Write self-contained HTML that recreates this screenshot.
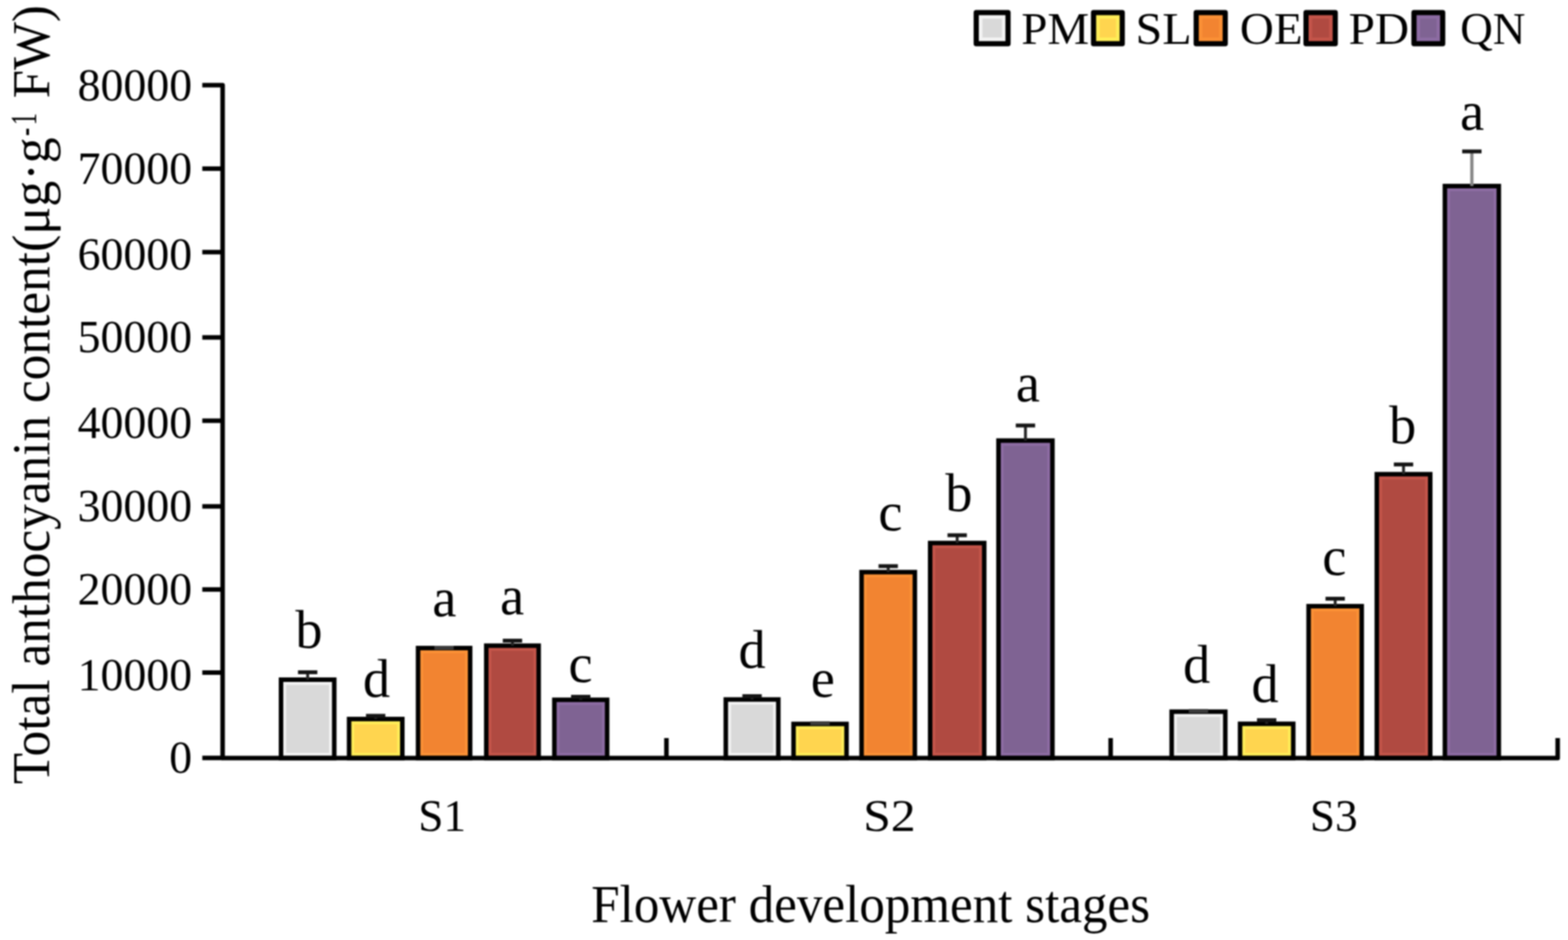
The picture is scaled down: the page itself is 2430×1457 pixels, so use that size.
<!DOCTYPE html>
<html><head><meta charset="utf-8"><title>Total anthocyanin content</title>
<style>html,body{margin:0;padding:0;background:#fff;overflow:hidden;}svg{display:block;filter:blur(0.8px);}text{font-family:"Liberation Serif", "Times New Roman", serif;fill:#000;}</style></head><body>
<svg width="2430" height="1457" viewBox="0 0 2430 1457">
<rect width="2430" height="1457" fill="#fff"/>
<rect x="435.5" y="1053.5" width="82.5" height="121.5" fill="#F4F4F4"/>
<rect x="443.5" y="1061.5" width="66.5" height="105.5" fill="#D9D9D9"/>
<rect x="435.5" y="1053.5" width="82.5" height="121.5" fill="none" stroke="#000" stroke-width="7" stroke-linejoin="miter"/>
<rect x="541.0" y="1114.5" width="82.5" height="60.5" fill="#FFEE58"/>
<rect x="549.0" y="1122.5" width="66.5" height="44.5" fill="#FFD54F"/>
<rect x="541.0" y="1114.5" width="82.5" height="60.5" fill="none" stroke="#000" stroke-width="7" stroke-linejoin="miter"/>
<rect x="647.9" y="1004.5" width="80.7" height="170.5" fill="#FB9136"/>
<rect x="655.9" y="1012.5" width="64.7" height="154.5" fill="#F28431"/>
<rect x="647.9" y="1004.5" width="80.7" height="170.5" fill="none" stroke="#000" stroke-width="7" stroke-linejoin="miter"/>
<rect x="753.6" y="1000.8" width="81.2" height="174.2" fill="#C4554A"/>
<rect x="761.6" y="1008.8" width="65.2" height="158.2" fill="#B04A41"/>
<rect x="753.6" y="1000.8" width="81.2" height="174.2" fill="none" stroke="#000" stroke-width="7" stroke-linejoin="miter"/>
<rect x="859.1" y="1084.7" width="81.8" height="90.3" fill="#8D6CA3"/>
<rect x="867.1" y="1092.7" width="65.8" height="74.3" fill="#7F6393"/>
<rect x="859.1" y="1084.7" width="81.8" height="90.3" fill="none" stroke="#000" stroke-width="7" stroke-linejoin="miter"/>
<rect x="1124.8" y="1084.2" width="81.4" height="90.8" fill="#F4F4F4"/>
<rect x="1132.8" y="1092.2" width="65.4" height="74.8" fill="#D9D9D9"/>
<rect x="1124.8" y="1084.2" width="81.4" height="90.8" fill="none" stroke="#000" stroke-width="7" stroke-linejoin="miter"/>
<rect x="1229.8" y="1122.1" width="82.1" height="52.9" fill="#FFEE58"/>
<rect x="1237.8" y="1130.1" width="66.1" height="36.9" fill="#FFD54F"/>
<rect x="1229.8" y="1122.1" width="82.1" height="52.9" fill="none" stroke="#000" stroke-width="7" stroke-linejoin="miter"/>
<rect x="1335.2" y="886.8" width="82.6" height="288.2" fill="#FB9136"/>
<rect x="1343.2" y="894.8" width="66.6" height="272.2" fill="#F28431"/>
<rect x="1335.2" y="886.8" width="82.6" height="288.2" fill="none" stroke="#000" stroke-width="7" stroke-linejoin="miter"/>
<rect x="1441.5" y="841.7" width="83.8" height="333.3" fill="#C4554A"/>
<rect x="1449.5" y="849.7" width="67.8" height="317.3" fill="#B04A41"/>
<rect x="1441.5" y="841.7" width="83.8" height="333.3" fill="none" stroke="#000" stroke-width="7" stroke-linejoin="miter"/>
<rect x="1547.4" y="682.9" width="83.6" height="492.1" fill="#8D6CA3"/>
<rect x="1555.4" y="690.9" width="67.6" height="476.1" fill="#7F6393"/>
<rect x="1547.4" y="682.9" width="83.6" height="492.1" fill="none" stroke="#000" stroke-width="7" stroke-linejoin="miter"/>
<rect x="1815.8" y="1103.1" width="83.1" height="71.9" fill="#F4F4F4"/>
<rect x="1823.8" y="1111.1" width="67.1" height="55.9" fill="#D9D9D9"/>
<rect x="1815.8" y="1103.1" width="83.1" height="71.9" fill="none" stroke="#000" stroke-width="7" stroke-linejoin="miter"/>
<rect x="1921.8" y="1121.9" width="82.4" height="53.1" fill="#FFEE58"/>
<rect x="1929.8" y="1129.9" width="66.4" height="37.1" fill="#FFD54F"/>
<rect x="1921.8" y="1121.9" width="82.4" height="53.1" fill="none" stroke="#000" stroke-width="7" stroke-linejoin="miter"/>
<rect x="2028.0" y="939.6" width="82.3" height="235.4" fill="#FB9136"/>
<rect x="2036.0" y="947.6" width="66.3" height="219.4" fill="#F28431"/>
<rect x="2028.0" y="939.6" width="82.3" height="235.4" fill="none" stroke="#000" stroke-width="7" stroke-linejoin="miter"/>
<rect x="2133.7" y="735.0" width="82.8" height="440.0" fill="#C4554A"/>
<rect x="2141.7" y="743.0" width="66.8" height="424.0" fill="#B04A41"/>
<rect x="2133.7" y="735.0" width="82.8" height="440.0" fill="none" stroke="#000" stroke-width="7" stroke-linejoin="miter"/>
<rect x="2239.2" y="288.4" width="83.6" height="886.6" fill="#8D6CA3"/>
<rect x="2247.2" y="296.4" width="67.6" height="870.6" fill="#7F6393"/>
<rect x="2239.2" y="288.4" width="83.6" height="886.6" fill="none" stroke="#000" stroke-width="7" stroke-linejoin="miter"/>
<line x1="476.8" y1="1042.0" x2="476.8" y2="1053.5" stroke="#262626" stroke-width="4.5"/>
<line x1="461.8" y1="1042.0" x2="491.8" y2="1042.0" stroke="#151515" stroke-width="6"/>
<line x1="582.2" y1="1109.5" x2="582.2" y2="1114.5" stroke="#262626" stroke-width="4.5"/>
<line x1="567.2" y1="1109.5" x2="597.2" y2="1109.5" stroke="#151515" stroke-width="6"/>
<line x1="673.2" y1="1004.0" x2="703.2" y2="1004.0" stroke="#3a3a3a" stroke-width="6"/>
<line x1="794.2" y1="993.0" x2="794.2" y2="1000.8" stroke="#262626" stroke-width="4.5"/>
<line x1="779.2" y1="993.0" x2="809.2" y2="993.0" stroke="#151515" stroke-width="6"/>
<line x1="900.0" y1="1080.0" x2="900.0" y2="1084.7" stroke="#262626" stroke-width="4.5"/>
<line x1="885.0" y1="1080.0" x2="915.0" y2="1080.0" stroke="#151515" stroke-width="6"/>
<line x1="1165.5" y1="1079.0" x2="1165.5" y2="1084.2" stroke="#262626" stroke-width="4.5"/>
<line x1="1150.5" y1="1079.0" x2="1180.5" y2="1079.0" stroke="#151515" stroke-width="6"/>
<line x1="1255.8" y1="1121.0" x2="1285.8" y2="1121.0" stroke="#3a3a3a" stroke-width="6"/>
<line x1="1376.5" y1="877.5" x2="1376.5" y2="886.8" stroke="#262626" stroke-width="4.5"/>
<line x1="1361.5" y1="877.5" x2="1391.5" y2="877.5" stroke="#151515" stroke-width="6"/>
<line x1="1483.4" y1="829.6" x2="1483.4" y2="841.7" stroke="#262626" stroke-width="4.5"/>
<line x1="1468.4" y1="829.6" x2="1498.4" y2="829.6" stroke="#151515" stroke-width="6"/>
<line x1="1589.2" y1="659.5" x2="1589.2" y2="682.9" stroke="#262626" stroke-width="4.5"/>
<line x1="1574.2" y1="659.5" x2="1604.2" y2="659.5" stroke="#151515" stroke-width="6"/>
<line x1="1842.3" y1="1102.0" x2="1872.3" y2="1102.0" stroke="#3a3a3a" stroke-width="6"/>
<line x1="1963.0" y1="1116.2" x2="1963.0" y2="1121.9" stroke="#262626" stroke-width="4.5"/>
<line x1="1948.0" y1="1116.2" x2="1978.0" y2="1116.2" stroke="#151515" stroke-width="6"/>
<line x1="2069.2" y1="928.0" x2="2069.2" y2="939.6" stroke="#262626" stroke-width="4.5"/>
<line x1="2054.2" y1="928.0" x2="2084.2" y2="928.0" stroke="#151515" stroke-width="6"/>
<line x1="2175.1" y1="719.9" x2="2175.1" y2="735.0" stroke="#262626" stroke-width="4.5"/>
<line x1="2160.1" y1="719.9" x2="2190.1" y2="719.9" stroke="#151515" stroke-width="6"/>
<line x1="2281.0" y1="234.7" x2="2281.0" y2="288.4" stroke="#858585" stroke-width="5"/>
<line x1="2266.0" y1="234.7" x2="2296.0" y2="234.7" stroke="#151515" stroke-width="6"/>
<path d="M313.5,132.0 H345.0 V1175.0 H2414 V1144" fill="none" stroke="#000" stroke-width="7" stroke-linejoin="round" stroke-linecap="butt"/>
<line x1="313.5" y1="1174.8" x2="345.0" y2="1174.8" stroke="#000" stroke-width="7"/>
<line x1="313.5" y1="1042.5" x2="345.0" y2="1042.5" stroke="#000" stroke-width="7"/>
<line x1="313.5" y1="913.7" x2="345.0" y2="913.7" stroke="#000" stroke-width="7"/>
<line x1="313.5" y1="784.9" x2="345.0" y2="784.9" stroke="#000" stroke-width="7"/>
<line x1="313.5" y1="652.1" x2="345.0" y2="652.1" stroke="#000" stroke-width="7"/>
<line x1="313.5" y1="523.0" x2="345.0" y2="523.0" stroke="#000" stroke-width="7"/>
<line x1="313.5" y1="390.8" x2="345.0" y2="390.8" stroke="#000" stroke-width="7"/>
<line x1="313.5" y1="261.4" x2="345.0" y2="261.4" stroke="#000" stroke-width="7"/>
<line x1="1032.8" y1="1144" x2="1032.8" y2="1175.0" stroke="#000" stroke-width="7"/>
<line x1="1721.2" y1="1144" x2="1721.2" y2="1175.0" stroke="#000" stroke-width="7"/>
<text x="297.7" y="1198.1" font-size="71" text-anchor="end">0</text>
<text x="297.7" y="1069.8" font-size="71" text-anchor="end">10000</text>
<text x="297.7" y="936.7" font-size="71" text-anchor="end">20000</text>
<text x="297.7" y="807.5" font-size="71" text-anchor="end">30000</text>
<text x="297.7" y="678.8" font-size="71" text-anchor="end">40000</text>
<text x="297.7" y="546.3" font-size="71" text-anchor="end">50000</text>
<text x="297.7" y="417.5" font-size="71" text-anchor="end">60000</text>
<text x="297.7" y="285.0" font-size="71" text-anchor="end">70000</text>
<text x="297.7" y="155.6" font-size="71" text-anchor="end">80000</text>
<text x="457.8" y="1003.9" font-size="84">b</text>
<text x="562.5" y="1080.4" font-size="84">d</text>
<text x="670.0" y="954.5" font-size="84">a</text>
<text x="774.9" y="952.0" font-size="84">a</text>
<text x="881.0" y="1057.0" font-size="84">c</text>
<text x="1144.6" y="1035.0" font-size="84">d</text>
<text x="1256.4" y="1079.9" font-size="84">e</text>
<text x="1361.2" y="822.0" font-size="84">c</text>
<text x="1464.9" y="791.7" font-size="84">b</text>
<text x="1574.2" y="621.6" font-size="84">a</text>
<text x="1833.5" y="1057.8" font-size="84">d</text>
<text x="1939.5" y="1088.0" font-size="84">d</text>
<text x="2049.3" y="891.0" font-size="84">c</text>
<text x="2152.7" y="686.9" font-size="84">b</text>
<text x="2262.8" y="201.0" font-size="84">a</text>
<text transform="translate(685.3,1287.5) scale(1.0,1)" font-size="70" text-anchor="middle">S1</text>
<text transform="translate(1378.3,1287.5) scale(1.1,1)" font-size="70" text-anchor="middle">S2</text>
<text transform="translate(2067.0,1287.5) scale(1.0,1)" font-size="70" text-anchor="middle">S3</text>
<text transform="translate(916.2,1429) scale(0.9655,1)" font-size="82">Flower development stages</text>
<text transform="translate(76,1215.4) rotate(-90) scale(0.970,1)" font-size="82">Total anthocyanin content</text>
<text transform="translate(76,390.5) rotate(-90) scale(0.984,1)" font-size="82">(μg·g</text>
<text transform="translate(56,210.8) rotate(-90) scale(0.65,1)" font-size="58" x="0 25.9">-1</text>
<text transform="translate(76,152.3) rotate(-90) scale(0.96,1)" font-size="82">FW)</text>
<rect x="1512.9" y="19.4" width="49.3" height="48.3" fill="#F4F4F4" stroke="#000" stroke-width="8" stroke-linejoin="round"/>
<rect x="1522.4" y="28.9" width="30.3" height="29.3" fill="#D9D9D9"/>
<text transform="translate(1582.7,67.8) scale(1.047,1)" font-size="69.5">PM</text>
<rect x="1694.7" y="19.4" width="44.5" height="48.3" fill="#FFEE58" stroke="#000" stroke-width="8" stroke-linejoin="round"/>
<rect x="1704.2" y="28.9" width="25.5" height="29.3" fill="#FFD54F"/>
<text transform="translate(1759.8,67.8) scale(1.072,1)" font-size="69.5">SL</text>
<rect x="1853.8" y="19.4" width="45.0" height="48.3" fill="#FB9136" stroke="#000" stroke-width="8" stroke-linejoin="round"/>
<rect x="1863.3" y="28.9" width="26.0" height="29.3" fill="#F28431"/>
<text transform="translate(1921.6,67.8) scale(1.048,1)" font-size="69.5">OE</text>
<rect x="2024.0" y="19.4" width="45.3" height="48.3" fill="#C4554A" stroke="#000" stroke-width="8" stroke-linejoin="round"/>
<rect x="2033.5" y="28.9" width="26.3" height="29.3" fill="#B04A41"/>
<text transform="translate(2090.1,67.8) scale(1.055,1)" font-size="69.5">PD</text>
<rect x="2191.3" y="19.4" width="44.5" height="48.3" fill="#8D6CA3" stroke="#000" stroke-width="8" stroke-linejoin="round"/>
<rect x="2200.8" y="28.9" width="25.5" height="29.3" fill="#7F6393"/>
<text transform="translate(2262.9,67.8) scale(1.006,1)" font-size="69.5">QN</text>
</svg></body></html>
